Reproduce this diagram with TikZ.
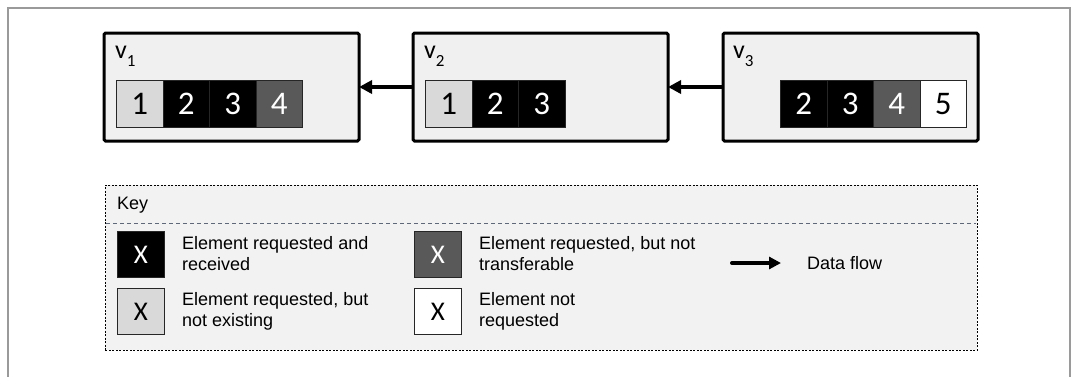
\documentclass[tikz,border=0pt]{standalone}
\usepackage{fontspec}
\setmainfont{Liberation Sans}
\newfontfamily\calibri{Carlito}
\usetikzlibrary{arrows.meta}

\definecolor{boxfill}{HTML}{F0F0F0}
\definecolor{keyfill}{HTML}{F2F2F2}
\definecolor{lightcell}{HTML}{D9D9D9}
\definecolor{darkcell}{HTML}{595959}
\definecolor{cellline}{HTML}{262626}
\definecolor{framegray}{HTML}{9A9A9A}
\definecolor{sepline}{HTML}{5E6878}

\newcommand{\vsub}[1]{v\raisebox{-0.3em}{\fontsize{17}{17}\selectfont #1}}

\begin{document}
\begin{tikzpicture}[x=1pt,y=-1pt,
  vbox/.style={draw=black, line width=3pt, fill=boxfill, rounded corners=1.5pt,
    minimum width=255pt, minimum height=108pt, inner sep=0pt, outer sep=0pt, anchor=north west},
  vlabel/.style={anchor=north west, inner sep=0pt, font=\calibri\fontsize{26}{26}\selectfont},
  cell/.style={draw=cellline, line width=0.9pt, minimum width=46.5pt, minimum height=47pt,
    inner sep=0pt, anchor=north west, font=\calibri\fontsize{33}{33}\selectfont},
  req/.style={cell, fill=black, text=white},
  miss/.style={cell, fill=lightcell, text=black},
  stuck/.style={cell, fill=darkcell, text=white},
  idle/.style={cell, fill=white, text=black},
  keysq/.style={draw=cellline, line width=1pt, minimum width=47pt, minimum height=46pt,
    inner sep=0pt, anchor=north west, font=\calibri\fontsize{27}{27}\selectfont},
  keytext/.style={anchor=west, align=left, inner sep=0pt, font=\fontsize{18}{21}\selectfont},
  flow/.style={line width=4pt, -{Triangle[length=13pt,width=13pt]}},
]
\useasboundingbox (0,0) rectangle (1072,376);

% outer frame
\draw[framegray, line width=2pt] (8,380) -- (8,8) -- (1070,8) -- (1070,380);

% nodes
\node[vbox] (v1) at (104,33) {};
\node[vbox] (v2) at (413,33) {};
\node[vbox] (v3) at (723,33) {};

\node[vlabel] (l1) at (115,46) {\vsub{1}};
\node[vlabel] (l2) at (424,46) {\vsub{2}};
\node[vlabel] (l3) at (733,46) {\vsub{3}};

% element rows
\node[miss]  (a1) at (116,80)   {1};
\node[req]   (a2) at (162.5,80) {2};
\node[req]   (a3) at (209,80)   {3};
\node[stuck] (a4) at (255.5,80) {4};

\node[miss]  (b1) at (425,80)   {1};
\node[req]   (b2) at (471.5,80) {2};
\node[req]   (b3) at (518,80)   {3};

\node[req]   (c2) at (780,80)   {2};
\node[req]   (c3) at (826.5,80) {3};
\node[stuck] (c4) at (873,80)   {4};
\node[idle]  (c5) at (919.5,80) {5};

% data flow between nodes
\draw[flow] (v2.west) -- (v1.east);
\draw[flow] (v3.west) -- (v2.east);

% key
\node[draw=black, line width=0.8pt, dash pattern=on 2pt off 1.5pt, fill=keyfill,
  minimum width=872pt, minimum height=165pt, inner sep=0pt, anchor=north west] (key) at (105,185) {};
\draw[sepline, line width=0.8pt, dash pattern=on 4pt off 3pt] (106,223) -- (976,223);
\node[anchor=west, inner sep=0pt, font=\fontsize{18}{20}\selectfont] (keyhead) at (117,205) {Key};

\node[keysq, fill=black, text=white] (k1) at (117,231) {X};
\node[keytext] (t1) at (182,254) {Element requested and\\received};
\node[keysq, fill=lightcell] (k2) at (117,288) {X};
\node[keytext] (t2) at (182,311) {Element requested, but\\not existing};
\node[keysq, fill=darkcell, text=white] (k3) at (414,231) {X};
\node[keytext] (t3) at (479,254) {Element requested, but not\\transferable};
\node[keysq, fill=white] (k4) at (414,288) {X};
\node[keytext] (t4) at (479,311) {Element not\\requested};

\coordinate (fs) at (732,263);
\coordinate (fe) at (781,263);
\draw[line width=4pt, line cap=round, -{Triangle[length=12pt,width=12pt]}] (fs) -- (fe);
\node[keytext] (t5) at (807,263) {Data flow};
\end{tikzpicture}
\end{document}
